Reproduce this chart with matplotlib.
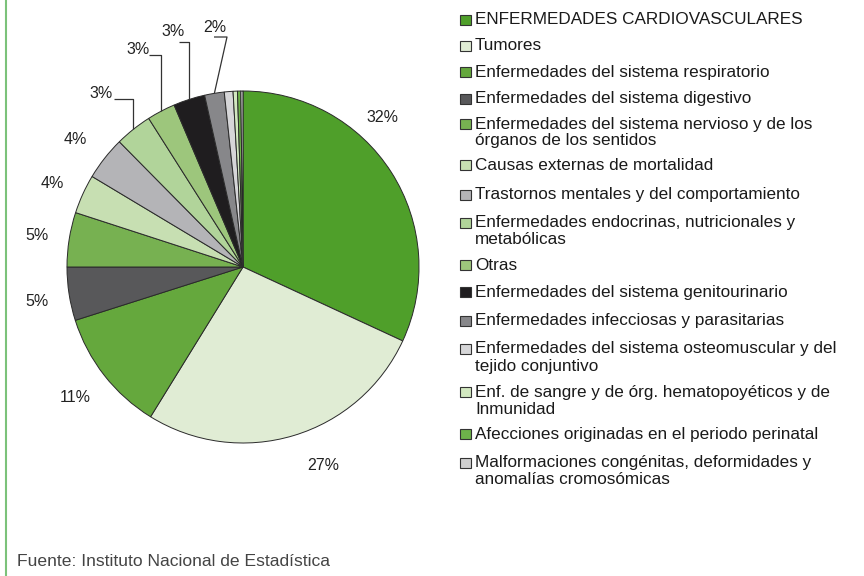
import matplotlib
matplotlib.use("Agg")
import matplotlib.pyplot as plt
from matplotlib.patches import Rectangle
import numpy as np

plt.rcParams['font.family'] = ['Liberation Sans', 'DejaVu Sans']

# datos: defunciones por causa (% del total)
causas = [
    "ENFERMEDADES CARDIOVASCULARES",
    "Tumores",
    "Enfermedades del sistema respiratorio",
    "Enfermedades del sistema digestivo",
    "Enfermedades del sistema nervioso y de los\nórganos de los sentidos",
    "Causas externas de mortalidad",
    "Trastornos mentales y del comportamiento",
    "Enfermedades endocrinas, nutricionales y\nmetabólicas",
    "Otras",
    "Enfermedades del sistema genitourinario",
    "Enfermedades infecciosas y parasitarias",
    "Enfermedades del sistema osteomuscular y del\ntejido conjuntivo",
    "Enf. de sangre y de órg. hematopoyéticos y de\nInmunidad",
    "Afecciones originadas en el periodo perinatal",
    "Malformaciones congénitas, deformidades y\nanomalías cromosómicas",
]
porcentajes = [31.9, 26.9, 11.3, 4.9, 5.0, 3.6, 4.0, 3.4, 2.6, 2.9, 1.8, 0.8, 0.4, 0.3, 0.2]
etiquetas = ["32%", "27%", "11%", "5%", "5%", "4%", "4%", "3%", "3%", "3%", "2%", "", "", "", ""]

colores = ['#4f9f2a', '#e0ecd4', '#65a83d', '#58585a', '#77b151', '#c7dfb2', '#b4b4b7',
           '#b1d49a', '#9dc67c', '#1f1d1f', '#87878a', '#d6d6d8', '#d2e8c0', '#6db24a', '#cfcfcf']

W, H = 864, 576


def py(y):
    # posiciones en pixeles desde arriba -> coordenadas del eje
    return H - y


# posiciones de las etiquetas (pixeles)
pos_etiquetas = {0: (382, 117), 1: (323, 465), 2: (75, 397), 3: (37, 302), 4: (37, 236),
                 5: (52, 183), 6: (75, 140), 7: (101, 93), 8: (138, 49), 9: (173, 32), 10: (215, 28)}
# lineas guia: inicio (x, y) y codo opcional
guias = {7: (114, 99, None), 8: (149, 55, None), 9: (179, 42, None), 10: (214, 37, 227)}
filas_leyenda = [20, 46, 72, 99, 124, 165, 195, 223, 265, 292, 321, 349, 392, 434, 463]
interlinea = 17

fig = plt.figure(figsize=(8.64, 5.76), dpi=100)
ax = fig.add_axes([0, 0, 1, 1])

centro = (243, py(267))
radio = 176
wedges, _ = ax.pie(porcentajes, colors=colores, startangle=90, counterclock=False,
                   center=centro, radius=radio,
                   wedgeprops=dict(edgecolor='#2a2a2a', linewidth=0.7))

ax.set_xlim(0, W)
ax.set_ylim(0, H)
ax.set_aspect('auto')
ax.axis('off')

for i, txt in enumerate(etiquetas):
    if not txt:
        continue
    x, y = pos_etiquetas[i]
    ax.text(x, py(y), txt, fontsize=11.5, color='#222222', ha='center', va='center')

for i, (x0, y0, codo) in guias.items():
    w = wedges[i]
    ang = np.deg2rad((w.theta1 + w.theta2) / 2)
    xe = centro[0] + radio * np.cos(ang)
    ye = centro[1] + radio * np.sin(ang)
    xm = xe if codo is None else codo
    ax.plot([x0, xm, xe], [py(y0), py(y0), ye], color='#333333', lw=0.9,
            solid_capstyle='butt')

# leyenda manual
for i, (nombre, col) in enumerate(zip(causas, colores)):
    y = filas_leyenda[i]
    ax.add_patch(Rectangle((460, py(y) - 5), 11, 10, facecolor=col,
                           edgecolor='#333333', linewidth=0.8))
    for k, linea in enumerate(nombre.split('\n')):
        ax.text(475, py(y + k * interlinea), linea, fontsize=12.3, color='#1a1a1a',
                ha='left', va='center')

ax.text(17, py(562), "Fuente: Instituto Nacional de Estadística", fontsize=12.6,
        color='#444444', ha='left', va='center')

ax.plot([6, 6], [0, H], color='#7cc27a', lw=1.5)

fig.savefig("out.png", dpi=100)
